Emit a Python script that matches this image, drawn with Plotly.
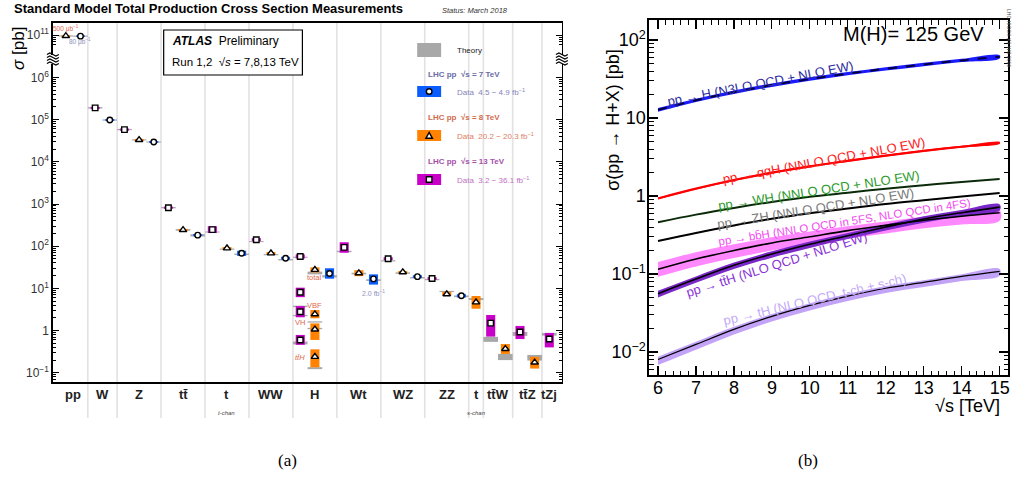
import numpy as np
import plotly.graph_objects as go

W_PX, H_PX = 1016, 477


def px(x):
    return x / W_PX


def py(y):
    return 1 - y / H_PX


# ---------------- Panel (a) data ----------------
categories = ["pp", "W", "Z", "tt̄", "t", "WW", "H", "Wt", "WZ", "ZZ", "t", "tt̄W", "tt̄Z", "tZj"]
category_notes = ["", "", "", "", "t-chan", "", "", "", "", "", "s-chan", "", "", ""]

meas_cat = [0, 0, 1, 1, 2, 2, 2, 3, 3, 3, 4, 4, 4, 5, 5, 5,
            6, 6, 6, 6, 6, 6, 6, 6, 6, 7, 7, 7, 8, 8, 8, 9, 9, 9, 10, 11, 11, 12, 12, 13]
meas_sqrts = [8, 7, 13, 7, 13, 8, 7, 13, 8, 7, 13, 8, 7, 13, 8, 7,
              13, 13, 13, 13, 8, 8, 8, 8, 7, 13, 8, 7, 13, 8, 7, 13, 8, 7, 8, 13, 8, 13, 8, 13]
meas_val = [9.6e10, 9.5e10, 1.9e5, 9.8e4, 5.8e4, 3.3e4, 2.95e4, 818, 242.9, 182.9,
            247, 89.6, 68, 142.6, 68.2, 51.9,
            57.0, 8.1, 2.8, 0.6, 27.7, 2.45, 1.07, 0.24, 22.5,
            94, 23.0, 16.8, 50.6, 24.3, 19.0, 17.2, 7.3, 6.7, 4.7, 1.5, 0.369, 0.93, 0.176, 0.63]
meas_lo = [9.25e10, 9.15e10, 1.8e5, 9.3e4, 5.45e4, 3.12e4, 2.8e4, 770, 229, 172,
           205, 84, 59, 131, 63.5, 48,
           51, 6.2, 2.07, 0.46, 24, 1.96, 0.60, 0.135, 17,
           70, 19.5, 12.3, 47, 22.8, 17.6, 16.0, 6.6, 6.1, 3.3, 0.72, 0.28, 0.63, 0.126, 0.40]
meas_hi = [9.95e10, 9.85e10, 2.0e5, 1.03e5, 6.15e4, 3.48e4, 3.1e4, 870, 257, 194,
           297, 95.5, 78, 155, 73, 56,
           64, 10.4, 3.8, 0.79, 31.5, 3.08, 1.48, 0.36, 30,
           124, 27, 21.5, 54.5, 25.8, 20.5, 18.5, 8.3, 7.3, 6.6, 2.34, 0.48, 1.29, 0.24, 0.88]

theo_cat = [0, 0, 1, 1, 2, 2, 2, 3, 3, 3, 4, 4, 4, 5, 5, 5,
            6, 6, 6, 6, 6, 6, 6, 6, 6, 7, 7, 7, 8, 8, 8, 9, 9, 9, 10, 11, 11, 12, 12, 13]
theo_sqrts = [8, 7, 13, 7, 13, 8, 7, 13, 8, 7, 13, 8, 7, 13, 8, 7,
              13, 13, 13, 13, 8, 8, 8, 8, 7, 13, 8, 7, 13, 8, 7, 13, 8, 7, 8, 13, 8, 13, 8, 13]
theo_lo = [9.3e10, 9.2e10, 1.83e5, 9.45e4, 5.6e4, 3.2e4, 2.86e4, 790, 232, 170,
           211, 82.5, 62, 125, 61, 46,
           53, 3.6, 2.2, 0.47, 21.5, 1.55, 1.08, 0.122, 18.2,
           72, 21.5, 15.0, 43.5, 22.2, 17.2, 15.6, 8.2, 6.2, 5.3, 0.54, 0.20, 0.75, 0.195, 0.76]
theo_hi = [9.9e10, 9.8e10, 1.97e5, 1.01e5, 6.0e4, 3.4e4, 3.04e4, 850, 254, 192,
           223, 88, 67, 132, 65, 49.5,
           56.5, 3.9, 2.35, 0.55, 25.0, 1.66, 1.16, 0.136, 20.5,
           78, 23.5, 16.5, 46.5, 24.0, 18.6, 16.8, 8.7, 6.8, 5.9, 0.71, 0.28, 0.93, 0.265, 0.88]

ytick_values = [1e-1, 1, 1e1, 1e2, 1e3, 1e4, 1e5, 1e6, 1e11]
ytick_labels = ["10<sup>−1</sup>", "1", "10<sup>1</sup>", "10<sup>2</sup>", "10<sup>3</sup>",
                "10<sup>4</sup>", "10<sup>5</sup>", "10<sup>6</sup>", "10<sup>11</sup>"]

# ---------------- Panel (b) data ----------------
sqrt_s = [6, 7, 8, 9, 10, 11, 12, 13, 14, 15]
ggF = [12.7, 16.85, 21.42, 26.4, 31.6, 37.0, 42.7, 48.58, 54.67, 60.9]
ggF_lo = [12.0, 16.0, 20.3, 25.0, 30.0, 35.2, 40.6, 46.2, 52.0, 57.9]
ggF_hi = [13.4, 17.7, 22.5, 27.7, 33.2, 38.8, 44.8, 51.0, 57.4, 63.9]
VBF = [0.93, 1.241, 1.601, 1.99, 2.40, 2.82, 3.29, 3.782, 4.278, 4.80]
VBF_lo = [0.905, 1.21, 1.56, 1.94, 2.34, 2.75, 3.21, 3.69, 4.17, 4.68]
VBF_hi = [0.955, 1.27, 1.64, 2.04, 2.46, 2.89, 3.37, 3.88, 4.39, 4.92]
WH = [0.46, 0.577, 0.703, 0.84, 0.98, 1.10, 1.24, 1.373, 1.51, 1.65]
ZH = [0.265, 0.336, 0.419, 0.51, 0.60, 0.69, 0.79, 0.884, 0.986, 1.09]
bbH = [0.115, 0.156, 0.20, 0.25, 0.30, 0.36, 0.42, 0.488, 0.55, 0.61]
bbH_lo = [0.092, 0.125, 0.16, 0.20, 0.24, 0.285, 0.33, 0.385, 0.43, 0.48]
bbH_hi = [0.142, 0.19, 0.24, 0.295, 0.35, 0.41, 0.47, 0.54, 0.60, 0.66]
ttH = [0.056, 0.0861, 0.1293, 0.18, 0.24, 0.31, 0.40, 0.507, 0.611, 0.72]
ttH_lo = [0.050, 0.077, 0.116, 0.162, 0.216, 0.28, 0.36, 0.455, 0.55, 0.65]
ttH_hi = [0.061, 0.093, 0.140, 0.195, 0.26, 0.335, 0.432, 0.548, 0.66, 0.78]
tH = [0.008, 0.0125, 0.0195, 0.0286, 0.0395, 0.052, 0.0656, 0.078, 0.093, 0.108]
tH_lo = [0.0068, 0.0107, 0.0167, 0.0246, 0.034, 0.045, 0.057, 0.068, 0.081, 0.095]
tH_hi = [0.0087, 0.0135, 0.021, 0.0307, 0.0423, 0.0556, 0.070, 0.0833, 0.0995, 0.116]

# ---------------- layout helpers (panel a) ----------------
cat_nslots = [2, 2, 3, 3, 3, 3, 3, 3, 3, 3, 1, 2, 2, 1]
cat_start = np.concatenate([[0], np.cumsum(cat_nslots)[:-1]])
XA_RANGE = [-0.384, 34.36]
YA_RANGE = [-1.218, 7.289]
BREAK_SHIFT = 4.0  # decades removed by the axis break


def ydisp(v):
    v = np.asarray(v, dtype=float)
    lv = np.log10(v)
    return np.where(v > 1e8, lv - BREAK_SHIFT, lv)


def slot_of(c, e):
    energies = sorted({meas_sqrts[i] for i in range(len(meas_cat)) if meas_cat[i] == c}
                      | {theo_sqrts[i] for i in range(len(theo_cat)) if theo_cat[i] == c},
                      reverse=True)
    return cat_start[c] + energies.index(e) + 0.5


meas_x = np.array([slot_of(c, e) for c, e in zip(meas_cat, meas_sqrts)])
theo_x = np.array([slot_of(c, e) for c, e in zip(theo_cat, theo_sqrts)])

E_COLOR = {7: "#0a5cff", 8: "#ff8200", 13: "#c800c8"}
E_SYMBOL = {7: "circle", 8: "triangle-up", 13: "square"}
E_SIZE = {7: 5.5, 8: 6.5, 13: 5.5}

fig = go.Figure()

# theory bands
tlo = ydisp(theo_lo)
thi = ydisp(theo_hi)
fig.add_trace(go.Bar(x=theo_x, y=thi - tlo, base=tlo, width=1.0,
                     marker=dict(color="#a8a8a8", line_width=0),
                     xaxis="x", yaxis="y", hoverinfo="skip"))

# data boxes
for e in [7, 8, 13]:
    idx = [i for i, s in enumerate(meas_sqrts) if s == e]
    lo = ydisp([meas_lo[i] for i in idx])
    hi = ydisp([meas_hi[i] for i in idx])
    fig.add_trace(go.Bar(x=meas_x[idx], y=hi - lo, base=lo, width=0.62,
                         marker=dict(color=E_COLOR[e], line_width=0),
                         xaxis="x", yaxis="y", hoverinfo="skip"))

# markers
for e in [7, 8, 13]:
    idx = [i for i, s in enumerate(meas_sqrts) if s == e]
    fig.add_trace(go.Scatter(x=meas_x[idx], y=ydisp([meas_val[i] for i in idx]),
                             mode="markers",
                             marker=dict(symbol=E_SYMBOL[e], size=E_SIZE[e], color="white",
                                         line=dict(color="black", width=1.4)),
                             xaxis="x", yaxis="y", hoverinfo="skip"))

# ---------------- Panel (b) traces ----------------
def band(x, lo, hi, color):
    fig.add_trace(go.Scatter(x=list(x) + list(x)[::-1], y=list(lo) + list(hi)[::-1],
                             fill="toself", fillcolor=color, mode="lines",
                             line=dict(width=0, color=color, shape="spline"),
                             xaxis="x2", yaxis="y2", hoverinfo="skip"))


def curve(x, y, color, width, dash="solid"):
    fig.add_trace(go.Scatter(x=x, y=y, mode="lines",
                             line=dict(color=color, width=width, dash=dash, shape="spline"),
                             xaxis="x2", yaxis="y2", hoverinfo="skip"))


band(sqrt_s, tH_lo, tH_hi, "#c3a3f7")
band(sqrt_s, bbH_lo, bbH_hi, "#ff88ff")
band(sqrt_s, ttH_lo, ttH_hi, "#7b28c8")
band(sqrt_s, ggF_lo, ggF_hi, "#1a1aff")
band(sqrt_s, VBF_lo, VBF_hi, "#ff1010")
curve(sqrt_s, ggF, "#000040", 2.0, "dash")
curve(sqrt_s, VBF, "#ff0000", 2.2)
curve(sqrt_s, WH, "#0a2a0a", 2.0)
curve(sqrt_s, ZH, "#000000", 2.0)
curve(sqrt_s, bbH, "#000000", 1.6)
curve(sqrt_s, ttH, "#000000", 1.6)
curve(sqrt_s, tH, "#000000", 1.2)

# ---------------- shapes ----------------
shapes = []
# category separators of panel (a)
for b in np.cumsum(cat_nslots)[:-1]:
    shapes.append(dict(type="line", xref="x", yref="paper", x0=b, x1=b, y0=py(418), y1=py(23),
                       line=dict(color="#e2e2e2", width=1.6), layer="below"))

# axis break marks
for bx in [53, 563]:
    shapes.append(dict(type="rect", xref="paper", yref="paper", x0=px(bx - 2), x1=px(bx + 2),
                       y0=py(64), y1=py(55), fillcolor="white", line_width=0, layer="above"))
    for by in [54.5, 57.5, 60.5, 63.5]:
        pts = [(bx - 6, by), (bx - 3, by - 1.6), (bx, by), (bx + 3, by + 1.6), (bx + 6, by)]
        path = "M " + " L ".join(f"{px(a):.5f},{py(b_):.5f}" for a, b_ in pts)
        shapes.append(dict(type="path", xref="paper", yref="paper", path=path,
                           line=dict(color="black", width=1.2), layer="above"))

# ATLAS box
shapes.append(dict(type="rect", xref="paper", yref="paper", x0=px(164), x1=px(303),
                   y0=py(75), y1=py(30), line=dict(color="black", width=1.2),
                   fillcolor="white", layer="above"))

# legend glyphs
shapes.append(dict(type="rect", xref="paper", yref="paper", x0=px(418), x1=px(442),
                   y0=py(57), y1=py(43), fillcolor="#a8a8a8", line_width=0, layer="above"))
leg_rows = [(7, 91.5), (8, 135.5), (13, 179.5)]
for e, cy in leg_rows:
    shapes.append(dict(type="rect", xref="paper", yref="paper", x0=px(418), x1=px(442),
                       y0=py(cy + 5.5), y1=py(cy - 5.5), fillcolor=E_COLOR[e], line_width=0,
                       layer="above"))
cx = 430
shapes.append(dict(type="circle", xref="paper", yref="paper", x0=px(cx - 2.8), x1=px(cx + 2.8),
                   y0=py(91.5 + 2.8), y1=py(91.5 - 2.8), fillcolor="white",
                   line=dict(color="black", width=1.4), layer="above"))
tri = [(cx - 3.3, 138.3), (cx + 3.3, 138.3), (cx, 132.5)]
shapes.append(dict(type="path", xref="paper", yref="paper",
                   path="M " + " L ".join(f"{px(a):.5f},{py(b_):.5f}" for a, b_ in tri) + " Z",
                   fillcolor="white", line=dict(color="black", width=1.4), layer="above"))
shapes.append(dict(type="rect", xref="paper", yref="paper", x0=px(cx - 2.8), x1=px(cx + 2.8),
                   y0=py(179.5 + 2.8), y1=py(179.5 - 2.8), fillcolor="white",
                   line=dict(color="black", width=1.4), layer="above"))

# ---------------- annotations ----------------
ann = []
SANS = "Liberation Sans"


def text(x, y, s, size, color="black", xanchor="center", yanchor="middle", angle=0,
         family=SANS, xref="paper", yref="paper"):
    ann.append(dict(x=px(x) if xref == "paper" else x, y=py(y) if yref == "paper" else y,
                    xref=xref, yref=yref, text=s, showarrow=False,
                    font=dict(family=family, size=size, color=color),
                    xanchor=xanchor, yanchor=yanchor, textangle=angle))


text(12, 9, "<b>Standard Model Total Production Cross Section Measurements</b>", 13,
     xanchor="left")
text(441, 10, "<i>Status: March 2018</i>", 7.5, color="#333", xanchor="left")
text(19, 48, "<i>σ</i> [pb]", 17, angle=-90)

# category labels
for i, name in enumerate(categories):
    a = max(cat_start[i], XA_RANGE[0])
    b = min(cat_start[i] + cat_nslots[i], XA_RANGE[1])
    ann.append(dict(x=(a + b) / 2, y=py(394), xref="x", yref="paper", text=f"<b>{name}</b>",
                    showarrow=False, font=dict(family=SANS, size=13, color="#222"),
                    xanchor="center", yanchor="middle"))
    if category_notes[i]:
        ann.append(dict(x=(a + b) / 2, y=py(413), xref="x", yref="paper",
                        text=f"<i>{category_notes[i]}</i>", showarrow=False,
                        font=dict(family=SANS, size=6, color="#444"),
                        xanchor="center", yanchor="middle"))

# ATLAS box text
text(170, 41, "<b><i>ATLAS</i></b>  Preliminary", 12, xanchor="left")
text(170, 62, "Run 1,2  √<i>s</i> = 7,8,13 TeV", 11.5, xanchor="left")

# legend text
text(456, 51, "Theory", 8, color="#222", xanchor="left")
text(427, 74, "<b>LHC pp  √s = 7 TeV</b>", 8, color="#6b6ba6", xanchor="left")
text(456, 92, "Data  4.5 − 4.9 fb<sup>−1</sup>", 8, color="#8484bc", xanchor="left")
text(427, 118, "<b>LHC pp  √s = 8 TeV</b>", 8, color="#cf6a4c", xanchor="left")
text(456, 136, "Data  20.2 − 20.3 fb<sup>−1</sup>", 8, color="#e07d62", xanchor="left")
text(427, 162, "<b>LHC pp  √s = 13 TeV</b>", 8, color="#a450a8", xanchor="left")
text(456, 180, "Data  3.2 − 36.1 fb<sup>−1</sup>", 8, color="#c070c4", xanchor="left")

# small labels in panel (a)
SAL = "#e0664d"
text(66, 29, "500 μb<sup>−1</sup>", 6.5, color=SAL)
text(80, 42, "80 μb<sup>−1</sup>", 6.5, color="#8c8cc0")
text(315.5, 277, "total", 7.5, color=SAL)
text(315.5, 305, "VBF", 7.5, color=SAL)
text(300.5, 322, "VH", 7.5, color=SAL)
text(301, 357, "<i>tt̄H</i>", 7.5, color=SAL)
text(374, 293, "2.0 fb<sup>−1</sup>", 7, color="#9090c0")

# panel (b) texts
text(988, 34, "M(H)= 125 GeV", 20, xanchor="right")
text(614, 120, "σ(pp → H+X) [pb]", 18, angle=-90)
text(1004, 406, "√s [TeV]", 18, xanchor="right")
text(762, 84, "pp → H (N3LO QCD + NLO EW)", 13, color="#2c2ca0", angle=-11)
text(826, 160, "pp → qqH (NNLO QCD + NLO EW)", 13, color="#ff2020", angle=-10.5)
text(820, 190, "pp → WH (NNLO QCD + NLO EW)", 13, color="#2a9a2a", angle=-8.7)
text(817, 208, "pp → ZH (NNLO QCD + NLO EW)", 13, color="#7a7a7a", angle=-9.2)
text(846, 222, "pp → bb̄H (NNLO QCD in 5FS, NLO QCD in 4FS)", 11.5, color="#f24cf2", angle=-8.8)
text(778, 264, "pp → tt̄H (NLO QCD + NLO EW)", 13, color="#8a34d6", angle=-17.5)
text(816, 299, "pp → tH (NLO QCD, t-ch + s-ch)", 13, color="#c4aaf8", angle=-13.2)
text(1011, 38, "LHC HIGGS XS WG 2016", 5, color="#555", angle=90)

# captions
text(288, 460, "(a)", 17, family="Liberation Serif")
text(810, 460, "(b)", 17, family="Liberation Serif")

# ---------------- axes ----------------
ya_minor = []
for d in range(-2, 6):
    for k in range(2, 10):
        v = d + np.log10(k)
        if YA_RANGE[0] <= v <= 6.05:
            ya_minor.append(v)
for k in range(6, 10):
    ya_minor.append(7 + np.log10(k / 10))

yb_minor = [k * 10.0 ** d for d in range(-3, 3) for k in range(2, 10)
            if 10 ** -2.295 <= k * 10.0 ** d <= 10 ** 2.256]

fig.update_layout(
    width=W_PX, height=H_PX, margin=dict(l=0, r=0, t=0, b=0),
    paper_bgcolor="white", plot_bgcolor="rgba(0,0,0,0)", showlegend=False,
    barmode="overlay", shapes=shapes, annotations=ann,
    xaxis=dict(domain=[px(53), px(563)], range=XA_RANGE, showgrid=False, zeroline=False,
               showline=True, linecolor="black", linewidth=1.6, mirror=True, ticks="",
               showticklabels=False, anchor="y"),
    yaxis=dict(domain=[py(382), py(23)], range=YA_RANGE, showgrid=False, zeroline=False,
               showline=True, linecolor="black", linewidth=1.6, mirror="ticks",
               ticks="inside", ticklen=6, tickwidth=1, tickcolor="black",
               tickmode="array", tickvals=list(ydisp(ytick_values)), ticktext=ytick_labels,
               tickfont=dict(family=SANS, size=12, color="#333"), anchor="x",
               minor=dict(tickmode="array", tickvals=ya_minor, ticks="inside", ticklen=3,
                          tickcolor="black", tickwidth=1, showgrid=False)),
    xaxis2=dict(domain=[px(650.7), px(1010)], range=[5.774, 15.22], showgrid=False,
                zeroline=False, showline=True, linecolor="black", linewidth=2,
                mirror="ticks", ticks="inside", ticklen=9, tickwidth=1.2, tickcolor="black",
                tickmode="array", tickvals=list(range(6, 16)), ticklabelstandoff=-5,
                tickfont=dict(family=SANS, size=18, color="black"), anchor="y2",
                minor=dict(dtick=0.2, tick0=6, ticks="inside", ticklen=4.5, tickcolor="black",
                           tickwidth=1, showgrid=False)),
    yaxis2=dict(domain=[py(375), py(20)], type="log", range=[-2.295, 2.256], showgrid=False,
                zeroline=False, showline=True, linecolor="black", linewidth=2,
                mirror="ticks", ticks="inside", ticklen=9, tickwidth=1.2, tickcolor="black",
                tickmode="array", tickvals=[0.01, 0.1, 1, 10, 100], ticklabelstandoff=-2,
                ticktext=["10<sup>−2</sup>", "10<sup>−1</sup>", "1", "10", "10<sup>2</sup>"],
                tickfont=dict(family=SANS, size=18, color="black"), anchor="x2",
                minor=dict(tickmode="array", tickvals=yb_minor, ticks="inside", ticklen=4.5,
                           tickcolor="black", tickwidth=1, showgrid=False)),
)

fig.write_html("out.html", config={"displayModeBar": False, "staticPlot": True},
               post_script="document.body.style.margin='0px';"
                           "document.body.style.overflow='hidden';")
